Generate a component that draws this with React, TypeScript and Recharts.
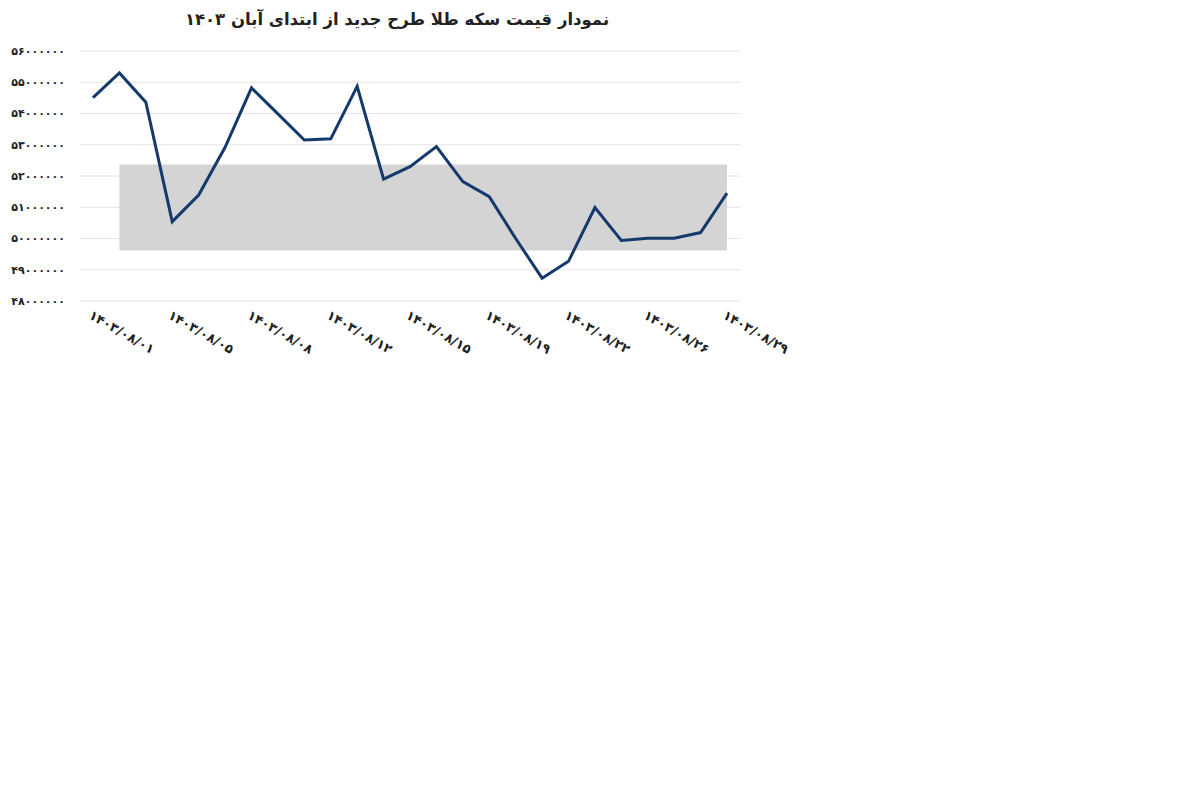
import { CartesianGrid, Line, LineChart, ReferenceArea, XAxis, YAxis } from "recharts"

const title = "نمودار قیمت سکه طلا طرح جدید از ابتدای آبان ۱۴۰۳"

const dates = [
    "1403/08/01", "1403/08/02", "1403/08/03", "1403/08/05", "1403/08/06",
    "1403/08/07", "1403/08/08", "1403/08/09", "1403/08/10", "1403/08/12",
    "1403/08/13", "1403/08/14", "1403/08/15", "1403/08/16", "1403/08/17",
    "1403/08/19", "1403/08/20", "1403/08/21", "1403/08/22", "1403/08/23",
    "1403/08/24", "1403/08/26", "1403/08/27", "1403/08/28", "1403/08/29",
]

const prices = [
    54510000, 55300000, 54360000, 50540000, 51390000,
    52920000, 54820000, 53990000, 53150000, 53190000,
    54870000, 51900000, 52300000, 52940000, 51820000,
    51340000, 50000000, 48730000, 49270000, 50990000,
    49940000, 50010000, 50010000, 50190000, 51450000,
]

const yTicks = [48000000, 49000000, 50000000, 51000000, 52000000, 53000000, 54000000, 55000000, 56000000]

const data = dates.map((date, i) => ({ date, price: prices[i] }))

const faDigits = "۰۱۲۳۴۵۶۷۸۹"
const toFa = (s: string | number) => String(s).replace(/[0-9]/g, (d) => faDigits[Number(d)])

const font = "'DejaVu Sans', sans-serif"

function DateTick({ x, y, payload }: any) {
    return (
        <g transform={`translate(${x},${y})`}>
            <text
                x={0}
                y={0}
                dy={10}
                textAnchor="start"
                transform="rotate(30)"
                fill="#222"
                fontSize={13}
                fontWeight="bold"
                fontFamily={font}
            >
                {toFa(payload.value)}
            </text>
        </g>
    )
}

export default function App() {
    return (
        <div style={{ position: "relative", width: 800, height: 360, fontFamily: font }}>
            <div
                style={{
                    position: "absolute",
                    left: 0,
                    top: 0,
                    width: 778,
                    textAlign: "center",
                    direction: "rtl",
                    fontSize: 16.5,
                    fontWeight: "bold",
                    lineHeight: "24px",
                    color: "#222",
                }}
            >
                {title}
            </div>
            <LineChart
                width={800}
                height={360}
                data={data}
                margin={{ top: 43, right: 68, left: 0, bottom: 37 }}
            >
                <ReferenceArea
                    x1={dates[1]}
                    x2={dates[24]}
                    y1={49620000}
                    y2={52370000}
                    fill="#d4d4d4"
                    fillOpacity={1}
                    stroke="none"
                />
                <CartesianGrid vertical={false} stroke="#e4e4e4" strokeWidth={1} />
                <XAxis
                    dataKey="date"
                    height={30}
                    interval={2}
                    padding={{ left: 13, right: 13 }}
                    axisLine={false}
                    tickLine={false}
                    tick={<DateTick />}
                />
                <YAxis
                    width={72}
                    domain={[48000000, 56000000]}
                    ticks={yTicks}
                    axisLine={false}
                    tickLine={false}
                    tickMargin={9}
                    tick={{ fill: "#222", fontSize: 11, fontWeight: "bold", fontFamily: font }}
                    tickFormatter={(v) => toFa(v)}
                />
                <Line
                    type="linear"
                    dataKey="price"
                    stroke="#143a6c"
                    strokeWidth={3}
                    dot={false}
                    activeDot={false}
                    isAnimationActive={false}
                />
            </LineChart>
        </div>
    )
}
